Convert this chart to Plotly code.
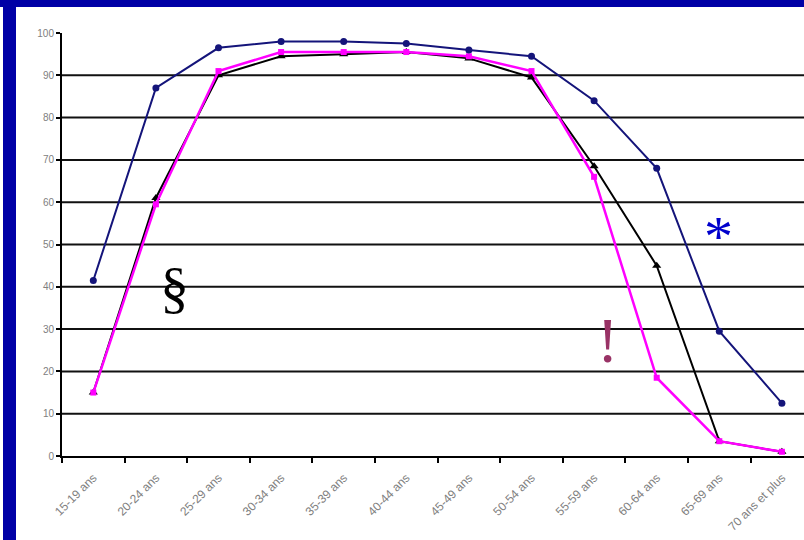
import plotly.graph_objects as go

categories = ["15-19 ans", "20-24 ans", "25-29 ans", "30-34 ans", "35-39 ans", "40-44 ans",
              "45-49 ans", "50-54 ans", "55-59 ans", "60-64 ans", "65-69 ans", "70 ans et plus"]
blue_vals = [41.5, 87, 96.5, 98, 98, 97.5, 96, 94.5, 84, 68, 29.5, 12.5]
black_vals = [15, 61, 90, 94.5, 95, 95.5, 94, 89.5, 68.5, 45, 3.5, 1]
magenta_vals = [15, 59.5, 91, 95.5, 95.5, 95.5, 94.5, 91, 66, 18.5, 3.5, 1]
y_ticks = [0, 10, 20, 30, 40, 50, 60, 70, 80, 90, 100]
grid_vals = [10, 20, 30, 40, 50, 60, 70, 80, 90]

W, H = 804, 540
L, R_edge, T, B_edge = 62, 804, 33, 456
pw, ph = R_edge - L, B_edge - T

def px_x(p):
    return (p - L) / pw

def px_y(p):
    return (B_edge - p) / ph

fig = go.Figure()
fig.add_trace(go.Scatter(x=categories, y=black_vals, mode="lines+markers",
                         line=dict(color="#000000", width=2),
                         marker=dict(symbol="triangle-up", size=8, color="#000000")))
fig.add_trace(go.Scatter(x=categories, y=magenta_vals, mode="lines+markers",
                         line=dict(color="#ff00ff", width=2.5),
                         marker=dict(symbol="square", size=6, color="#ff00ff")))
fig.add_trace(go.Scatter(x=categories, y=blue_vals, mode="lines+markers",
                         line=dict(color="#14147a", width=2),
                         marker=dict(symbol="circle", size=7, color="#14147a")))

shapes = []
for g in grid_vals:
    shapes.append(dict(type="line", xref="paper", yref="y", x0=0, x1=1, y0=g, y1=g,
                       line=dict(color="#111111", width=2), layer="below"))
# blue frame
shapes.append(dict(type="rect", xref="paper", yref="paper", x0=px_x(3), x1=px_x(16),
                   y0=px_y(540), y1=px_y(0), fillcolor="#0000a6", line=dict(width=0), layer="above"))
shapes.append(dict(type="rect", xref="paper", yref="paper", x0=px_x(0), x1=px_x(804),
                   y0=px_y(7), y1=px_y(0), fillcolor="#0000a6", line=dict(width=0), layer="above"))

annotations = [
    dict(text="§", x=px_x(158), y=px_y(287), xref="paper", yref="paper", showarrow=False,
         font=dict(family="Liberation Serif", size=58, color="#000000")),
    dict(text="!", x=px_x(620), y=px_y(378), xref="paper", yref="paper", showarrow=False,
         font=dict(family="Liberation Serif", size=64, color="#993366")),
    dict(text="*", x=px_x(735), y=px_y(236), xref="paper", yref="paper", showarrow=False,
         font=dict(family="Liberation Serif", size=58, color="#0000cc")),
]

fig.update_layout(
    width=W, height=H,
    margin=dict(l=L, r=W - R_edge, t=T, b=H - B_edge, pad=0),
    paper_bgcolor="white", plot_bgcolor="white",
    showlegend=False,
    shapes=shapes, annotations=annotations,
    xaxis=dict(type="category", range=[-0.5, -0.5 + pw / 62.6], tickson="boundaries",
               ticks="outside", ticklen=5, tickwidth=2, tickcolor="#000000",
               showline=True, linecolor="#000000", linewidth=2, showgrid=False,
               tickangle=-45, ticklabelstandoff=8,
               tickfont=dict(family="Liberation Sans", size=12, color="#808080")),
    yaxis=dict(range=[0, 100], tickvals=y_ticks, ticks="outside", ticklen=4, tickwidth=2,
               tickcolor="#000000", showline=True, linecolor="#000000", linewidth=2,
               showgrid=False, zeroline=False,
               tickfont=dict(family="Liberation Sans", size=10, color="#808080")),
)

fig.write_html("out.html", config={"displayModeBar": False},
               post_script="document.body.style.margin='0';document.body.style.overflow='hidden';")
